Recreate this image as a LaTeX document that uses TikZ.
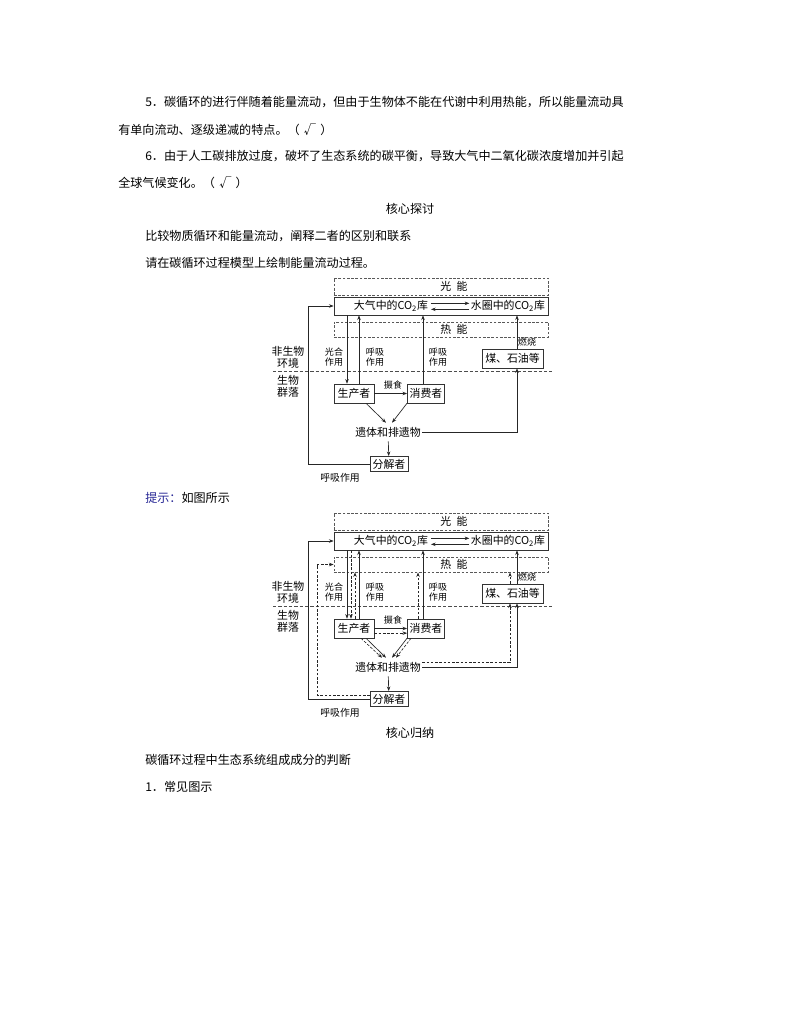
\documentclass[tikz,border=0pt]{standalone}
\usepackage{fontspec}
\setmainfont{Noto Sans CJK SC}
\usepackage{xcolor}
\usetikzlibrary{arrows.meta, positioning}
\definecolor{hintblue}{RGB}{40,40,150}
\tikzstyle{box}      = [rectangle, draw=black!80, line width=0.5pt, inner sep=1pt,
                        font=\fontsize{8.2}{9}\selectfont]
\tikzstyle{ebox}     = [rectangle, draw=black!65, line width=0.5pt,
                        dash pattern=on 2pt off 1.2pt, minimum width=5.66cm]
\tikzstyle{txt}      = [inner sep=0pt, font=\fontsize{8.2}{9}\selectfont]
\tikzstyle{sidetext} = [inner sep=0pt, align=center, font=\fontsize{8.2}{9}\selectfont]
\tikzstyle{tag}      = [inner sep=0pt, align=center, font=\fontsize{6.8}{8}\selectfont]
\tikzstyle{arrow}    = [draw=black!85, line width=0.5pt, -{Stealth[length=3.5pt,width=2.6pt]}]
\tikzstyle{earrow}   = [arrow, dash pattern=on 2pt off 1.2pt]
\tikzstyle{divider}  = [draw=black!70, line width=0.5pt, dash pattern=on 2.5pt off 1.5pt]
\tikzstyle{para}     = [anchor=west, inner sep=0pt, font=\fontsize{9.1}{11}\selectfont]
\tikzstyle{heading}  = [inner sep=0pt, font=\fontsize{9.1}{11}\selectfont]
\newcommand{\tick}{（\hspace{0.35em}√\hspace{0.35em}）}

% carbon cycle model, #1 = name prefix
\newcommand{\carbonmodel}[1]{%
  % energy and CO2 pools
  \node[ebox, minimum height=0.45cm] (#1light) at (441,286.5) {};
  \node[txt] (#1lighttext) at (454,286.5) {光\hspace{4pt}能};
  \node[box, minimum width=5.66cm, minimum height=0.476cm] (#1pool) at (441,306) {};
  \node[txt] (#1air) at (391,306) {大气中的CO\textsubscript{2}库};
  \node[txt] (#1water) at (508,306) {水圈中的CO\textsubscript{2}库};
  \draw[arrow] ([xshift=2pt,yshift=2pt]#1air.east) -- ([xshift=-1pt,yshift=2pt]#1water.west);
  \draw[arrow] ([xshift=-1pt,yshift=-2.5pt]#1water.west) -- ([xshift=2pt,yshift=-2.5pt]#1air.east);
  \node[ebox, minimum height=0.40cm] (#1heat) at (441,329.5) {};
  \node[txt] (#1heattext) at (454,329.5) {热\hspace{4pt}能};
  % environment / community
  \draw[divider] (273,371) -- (552,371);
  \node[sidetext] (#1abiotic) at (288,357) {非生物\\环境};
  \node[sidetext] (#1biotic) at (288,386) {生物\\群落};
  % organisms
  \node[box, minimum width=1.06cm, minimum height=0.5cm] (#1prod) at (354,393.5) {生产者};
  \node[box, minimum width=0.98cm, minimum height=0.5cm] (#1cons) at (426,393.5) {消费者};
  \node[txt, inner xsep=1pt, inner ysep=3pt] (#1rest) at (388,432) {遗体和排遗物};
  \node[box, minimum width=1.0cm, minimum height=0.4cm] (#1dec) at (389,464) {分解者};
  \node[box, minimum width=1.61cm, minimum height=0.5cm] (#1fuel) at (512.5,358.5) {煤、石油等};
  % carbon flow
  \draw[arrow] (#1pool.south -| 347,0) -- (#1prod.north -| 347,0);
  \draw[arrow] (#1prod.north -| 359,0) -- (#1pool.south -| 359,0);
  \draw[arrow] (#1cons.north -| 423,0) -- (#1pool.south -| 423,0);
  \draw[arrow] (#1fuel.north -| 517,0) -- (#1pool.south -| 517,0);
  \draw[arrow] (#1prod) -- (#1cons);
  \draw[arrow] (#1prod.south -| 366,0) -- (#1rest.north -| 386,0);
  \draw[arrow] (#1cons.south -| 407,0) -- (#1rest.north -| 392,0);
  \draw[arrow] (#1rest.east) -| (#1fuel.south -| 517,0);
  \draw[arrow] (#1rest) -- (#1dec);
  \draw[arrow] (#1dec.west) -- (#1dec.west -| 308,0) |- (#1pool.west);
  % labels
  \node[tag] (#1photo) at (334,357) {光合\\作用};
  \node[tag] (#1presp) at (375,357) {呼吸\\作用};
  \node[tag] (#1cresp) at (438,357) {呼吸\\作用};
  \node[tag] (#1burn) at (527,342) {燃烧};
  \node[tag] (#1feed) at (393,385) {摄食};
  \node[tag, font=\fontsize{7.4}{8}\selectfont] (#1dresp) at (340,478) {呼吸作用};
}

\begin{document}
\begin{tikzpicture}[x=0.02645cm, y=-0.02645cm]
  \useasboundingbox[fill=white] (0,0) rectangle (794,1028);

  % Judgement items
  \node[para] (item5) at (145,102.5) {5．碳循环的进行伴随着能量流动，但由于生物体不能在代谢中利用热能，所以能量流动具};
  \node[para] (item5b) at (118,129.5) {有单向流动、逐级递减的特点。\tick};
  \node[para] (item6) at (145,156) {6．由于人工碳排放过度，破坏了生态系统的碳平衡，导致大气中二氧化碳浓度增加并引起};
  \node[para] (item6b) at (118,182.5) {全球气候变化。\tick};

  % Core discussion
  \node[heading] (discuss) at (410,208.5) {核心探讨};
  \node[para] (compare) at (145,236.5) {比较物质循环和能量流动，阐释二者的区别和联系};
  \node[para] (task) at (145,262.5) {请在碳循环过程模型上绘制能量流动过程。};

  % Carbon cycle model
  \carbonmodel{a-}

  % Hint
  \node[para] (hint) at (145,497.5) {\textcolor{hintblue}{提示：}如图所示};

  % Model with energy flow
  \begin{scope}[shift={(0,235)}]
    \carbonmodel{b-}
    \draw[earrow] (b-pool.south -| 351,0) -- (b-prod.north -| 351,0);
    \draw[earrow] (b-prod.north -| 355,0) -- (b-heat.south -| 355,0);
    \draw[earrow] (b-cons.north -| 418,0) -- (b-heat.south -| 418,0);
    \draw[earrow] (b-fuel.north -| 510,0) -- (b-heat.south -| 510,0);
    \draw[earrow] ([yshift=-3.5pt]b-prod.east) -- ([yshift=-3.5pt]b-cons.west);
    \draw[earrow] (b-prod.south -| 361,0) -- (b-rest.north -| 382,0);
    \draw[earrow] (b-cons.south -| 411,0) -- (b-rest.north -| 396,0);
    \draw[earrow] ([yshift=3.5pt]b-rest.east) -| (b-fuel.south -| 510,0);
    \draw[earrow] ([yshift=3pt]b-dec.west) -| (b-heat.west -| 317,0) -- (b-heat.west);
  \end{scope}

  % Core summary
  \node[heading] (summary) at (410,733) {核心归纳};
  \node[para] (judge) at (145,760) {碳循环过程中生态系统组成成分的判断};
  \node[para] (common) at (145,787) {1．常见图示};
\end{tikzpicture}
\end{document}
